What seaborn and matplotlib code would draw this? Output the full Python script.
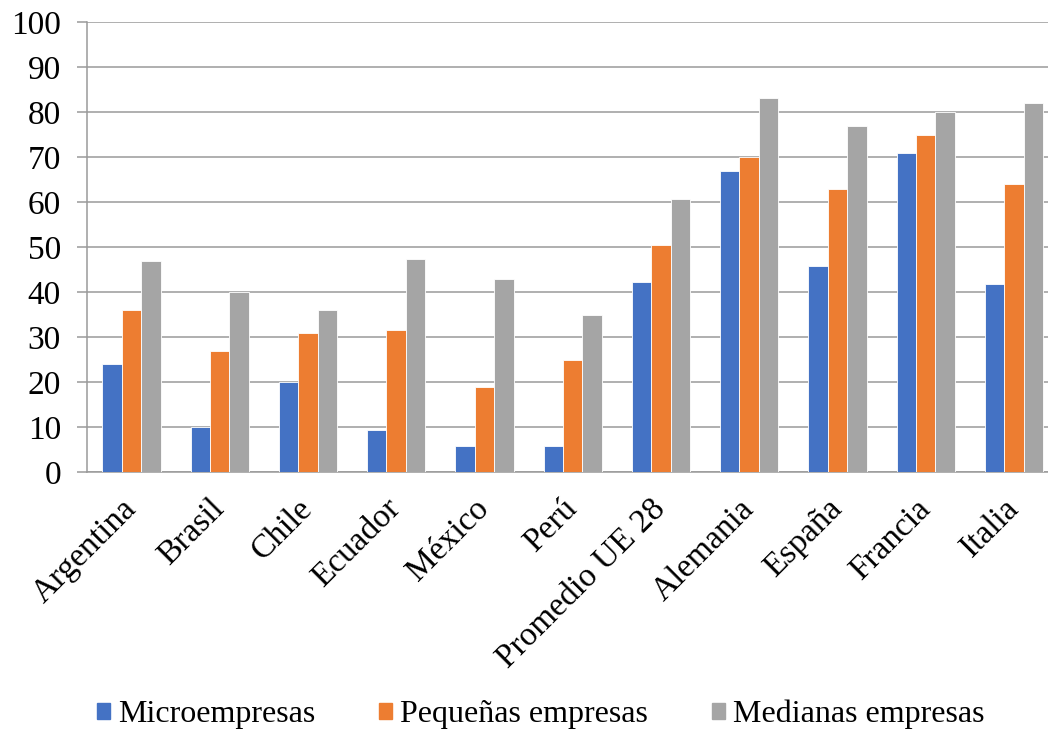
import numpy as np
import pandas as pd
import matplotlib.pyplot as plt
import seaborn as sns

# values (%)
countries = ['Argentina', 'Brasil', 'Chile', 'Ecuador', 'México', 'Perú',
             'Promedio UE 28', 'Alemania', 'España', 'Francia', 'Italia']
micro = [24, 10, 20, 9.4, 5.9, 5.9, 42.3, 67, 45.9, 71, 41.9]
pequenas = [36, 27, 31, 31.6, 18.9, 24.9, 50.4, 70, 63, 75, 64]
medianas = [47, 40, 36, 47.3, 42.9, 34.9, 60.7, 83, 76.9, 80, 82]
series = ['Microempresas', 'Pequeñas empresas', 'Medianas empresas']
colors = ['#4472C4', '#ED7D31', '#A5A5A5']


def main():
    df = pd.DataFrame({'pais': countries, series[0]: micro,
                       series[1]: pequenas, series[2]: medianas})
    long_df = df.melt(id_vars='pais', var_name='tipo', value_name='valor')

    sns.set_style('white')
    plt.rcParams['font.family'] = ['Liberation Serif', 'DejaVu Serif']
    plt.rcParams['text.color'] = 'black'
    plt.rcParams['xtick.color'] = 'black'
    plt.rcParams['ytick.color'] = 'black'

    fig = plt.figure(figsize=(10.48, 7.31), dpi=100)
    ax = fig.add_axes([0.0833, 0.354, 0.9263, 0.616])

    sns.barplot(data=long_df, x='pais', y='valor', hue='tipo',
                hue_order=series, palette=colors, width=0.66, gap=0,
                edgecolor='white', linewidth=0.6, saturation=1,
                legend=False, ax=ax, zorder=3)

    ax.set_ylim(0, 100)
    ax.set_xlim(-0.5, len(countries) - 0.5)
    ax.set_yticks(np.arange(0, 101, 10))
    ax.yaxis.grid(True, color='#9a9a9a', lw=1.1, zorder=0)
    ax.set_axisbelow(True)

    for s in ['top', 'right']:
        ax.spines[s].set_visible(False)
    for s in ['left', 'bottom']:
        ax.spines[s].set_color('#9a9a9a')
        ax.spines[s].set_linewidth(1.1)

    ax.set_xticks(np.arange(len(countries)))
    ax.set_xticklabels(countries, rotation=45, ha='right', va='center',
                       rotation_mode='anchor', fontsize=24)
    ax.set_xticks(np.arange(len(countries) + 1) - 0.5, minor=True)
    ax.tick_params(axis='x', which='major', length=0, pad=23)
    ax.tick_params(axis='x', which='minor', length=7, color='#9a9a9a', width=1.1)
    ax.tick_params(axis='y', length=7, color='#9a9a9a', labelcolor='black',
                   width=1.1, labelsize=24, pad=12, left=True)
    ax.set_xlabel('')
    ax.set_ylabel('')

    handles = [plt.Rectangle((0, 0), 1, 1, color=c) for c in colors]
    fig.legend(handles, series, loc='lower center', ncol=3,
               bbox_to_anchor=(0.516, -0.037), frameon=False, fontsize=23,
               handlelength=0.4, handleheight=0.4, handletextpad=0.25,
               columnspacing=2.0)

    fig.savefig('out.png', dpi=100)


if __name__ == '__main__':
    main()
